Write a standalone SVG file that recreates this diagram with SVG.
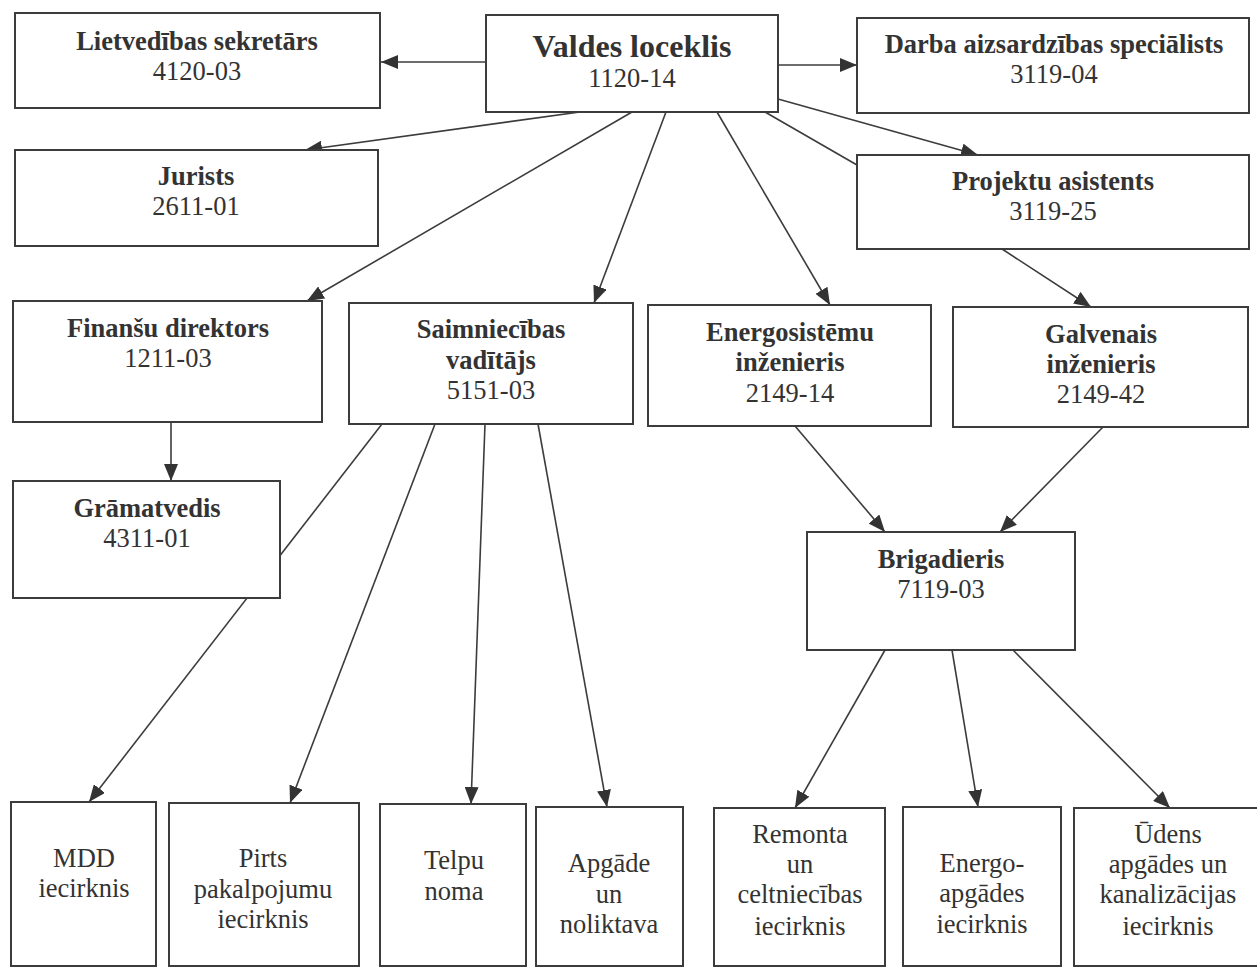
<svg xmlns="http://www.w3.org/2000/svg" width="1257" height="968" viewBox="0 0 1257 968">
<style>
.bg{fill:#ffffff}
.box{fill:#ffffff;stroke:#3c3c3c;stroke-width:2}
.t{font-family:"Liberation Serif","Times New Roman",serif;font-size:26.5px;fill:#333333;text-anchor:middle}
.b{font-weight:bold}
.big{font-size:32px}
.c line{stroke:#3c3c3c;stroke-width:1.6;fill:none}
.c line.a{marker-end:url(#arr)}
</style>
<defs>
<marker id="arr" markerUnits="userSpaceOnUse" markerWidth="18" markerHeight="14" refX="17" refY="7" orient="auto">
<path d="M0,0 L17,7 L0,14 Z" fill="#333333"/>
</marker>
</defs>
<rect class="bg" x="0" y="0" width="1257" height="968"/>
<g id="connectors" class="c">
<line class="a" x1="486" y1="62" x2="381" y2="62"/>
<line class="a" x1="778" y1="65" x2="857" y2="65"/>
<line class="a" x1="587" y1="111" x2="305" y2="150"/>
<line class="a" x1="632" y1="112" x2="307" y2="301"/>
<line class="a" x1="666" y1="112" x2="594" y2="303"/>
<line class="a" x1="717" y1="112" x2="830" y2="305"/>
<line class="a" x1="778" y1="99" x2="978" y2="155"/>
<line x1="765" y1="112" x2="857" y2="165"/>
<line class="a" x1="1002" y1="249" x2="1091" y2="307"/>
<line class="a" x1="171" y1="422" x2="171" y2="481"/>
<line class="a" x1="382" y1="424" x2="89" y2="802"/>
<line class="a" x1="435" y1="424" x2="290" y2="803"/>
<line class="a" x1="485" y1="424" x2="471" y2="804"/>
<line class="a" x1="538" y1="424" x2="607" y2="807"/>
<line class="a" x1="795" y1="426" x2="885" y2="532"/>
<line class="a" x1="1103" y1="427" x2="1000" y2="532"/>
<line class="a" x1="885" y1="650" x2="795" y2="808"/>
<line class="a" x1="952" y1="650" x2="978" y2="807"/>
<line class="a" x1="1013" y1="650" x2="1170" y2="808"/>
</g>
<g id="lietvedibas">
<rect class="box" x="15" y="13" width="365" height="95"/>
<text class="t b" x="197" y="50">Lietvedības sekretārs</text>
<text class="t" x="197" y="80">4120-03</text>
</g>
<g id="valdes">
<rect class="box" x="486" y="15" width="292" height="97"/>
<text class="t b big" x="632" y="57">Valdes loceklis</text>
<text class="t" x="632" y="87">1120-14</text>
</g>
<g id="darba">
<rect class="box" x="857" y="18" width="392" height="95"/>
<text class="t b" x="1054" y="53">Darba aizsardzības speciālists</text>
<text class="t" x="1054" y="83">3119-04</text>
</g>
<g id="jurists">
<rect class="box" x="15" y="150" width="363" height="96"/>
<text class="t b" x="196" y="185">Jurists</text>
<text class="t" x="196" y="215">2611-01</text>
</g>
<g id="projektu">
<rect class="box" x="857" y="155" width="392" height="94"/>
<text class="t b" x="1053" y="190">Projektu asistents</text>
<text class="t" x="1053" y="220">3119-25</text>
</g>
<g id="finansu">
<rect class="box" x="13" y="301" width="309" height="121"/>
<text class="t b" x="168" y="337">Finanšu direktors</text>
<text class="t" x="168" y="367">1211-03</text>
</g>
<g id="saimniecibas">
<rect class="box" x="349" y="303" width="284" height="121"/>
<text class="t b" x="491" y="338">Saimniecības</text>
<text class="t b" x="491" y="369">vadītājs</text>
<text class="t" x="491" y="399">5151-03</text>
</g>
<g id="energosistemu">
<rect class="box" x="648" y="305" width="283" height="121"/>
<text class="t b" x="790" y="341">Energosistēmu</text>
<text class="t b" x="790" y="371">inženieris</text>
<text class="t" x="790" y="402">2149-14</text>
</g>
<g id="galvenais">
<rect class="box" x="953" y="307" width="295" height="120"/>
<text class="t b" x="1101" y="343">Galvenais</text>
<text class="t b" x="1101" y="373">inženieris</text>
<text class="t" x="1101" y="403">2149-42</text>
</g>
<g id="gramatvedis">
<rect class="box" x="13" y="481" width="267" height="117"/>
<text class="t b" x="147" y="517">Grāmatvedis</text>
<text class="t" x="147" y="547">4311-01</text>
</g>
<g id="brigadieris">
<rect class="box" x="807" y="532" width="268" height="118"/>
<text class="t b" x="941" y="568">Brigadieris</text>
<text class="t" x="941" y="598">7119-03</text>
</g>
<g id="mdd">
<rect class="box" x="11" y="802" width="145" height="164"/>
<text class="t" x="84" y="867">MDD</text>
<text class="t" x="84" y="897">iecirknis</text>
</g>
<g id="pirts">
<rect class="box" x="169" y="803" width="190" height="163"/>
<text class="t" x="263" y="867">Pirts</text>
<text class="t" x="263" y="898">pakalpojumu</text>
<text class="t" x="263" y="928">iecirknis</text>
</g>
<g id="telpu">
<rect class="box" x="380" y="804" width="146" height="162"/>
<text class="t" x="454" y="869">Telpu</text>
<text class="t" x="454" y="900">noma</text>
</g>
<g id="apgade">
<rect class="box" x="536" y="807" width="147" height="159"/>
<text class="t" x="609" y="872">Apgāde</text>
<text class="t" x="609" y="903">un</text>
<text class="t" x="609" y="933">noliktava</text>
</g>
<g id="remonta">
<rect class="box" x="714" y="808" width="171" height="158"/>
<text class="t" x="800" y="843">Remonta</text>
<text class="t" x="800" y="873">un</text>
<text class="t" x="800" y="903">celtniecības</text>
<text class="t" x="800" y="935">iecirknis</text>
</g>
<g id="energo">
<rect class="box" x="903" y="807" width="158" height="159"/>
<text class="t" x="982" y="872">Energo-</text>
<text class="t" x="982" y="902">apgādes</text>
<text class="t" x="982" y="933">iecirknis</text>
</g>
<g id="udens">
<rect class="box" x="1074" y="808" width="186" height="158"/>
<text class="t" x="1168" y="843">Ūdens</text>
<text class="t" x="1168" y="873">apgādes un</text>
<text class="t" x="1168" y="903">kanalizācijas</text>
<text class="t" x="1168" y="935">iecirknis</text>
</g>
</svg>
